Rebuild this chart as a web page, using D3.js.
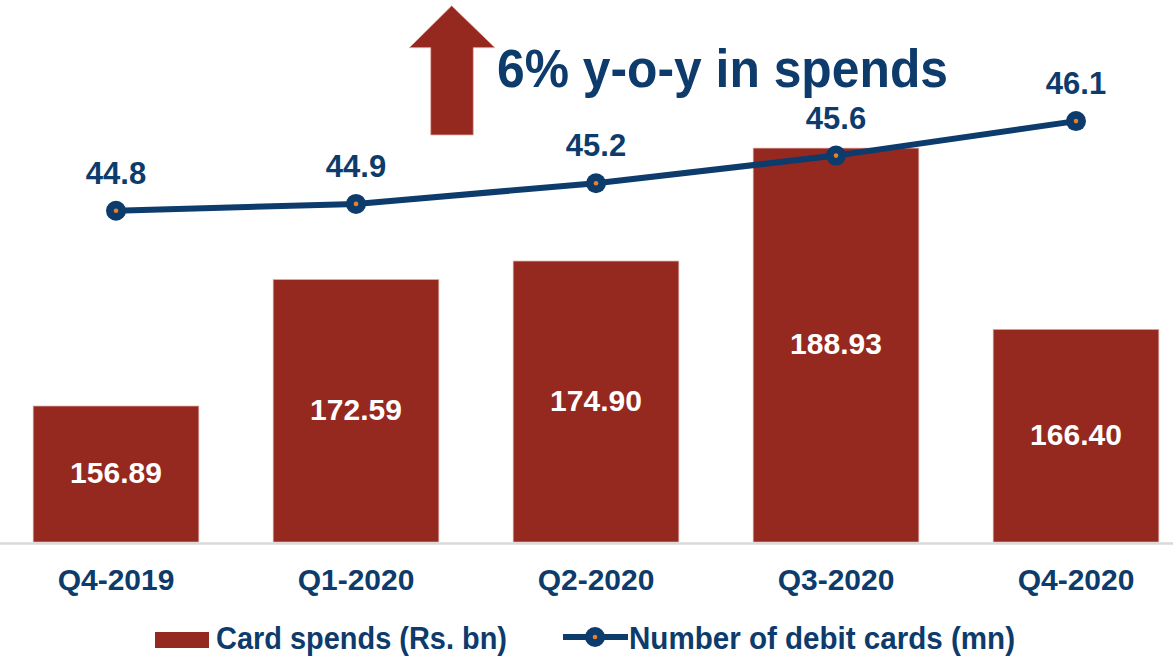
<!DOCTYPE html>
<html>
<head>
<meta charset="utf-8">
<script src="https://cdn.jsdelivr.net/npm/d3@7"></script>
<style>
  body { margin: 0; background: #fff; }
  text { font-family: "Liberation Sans", Arial, sans-serif; font-weight: bold; }
</style>
</head>
<body>
<script>
// chart data
const quarters = ['Q4-2019', 'Q1-2020', 'Q2-2020', 'Q3-2020', 'Q4-2020'];
const cardSpends = [156.89, 172.59, 174.90, 188.93, 166.40];   // Rs. bn
const debitCards = [44.8, 44.9, 45.2, 45.6, 46.1];              // mn
const spendLabels = ['156.89', '172.59', '174.90', '188.93', '166.40'];
const cardLabels = ['44.8', '44.9', '45.2', '45.6', '46.1'];
const seriesNames = ['Card spends (Rs. bn)', 'Number of debit cards (mn)'];
const headline = '6% y-o-y in spends';

const RED = '#952920';
const BLUE = '#0d3b6c';
const ORANGE = '#e8802c';

const width = 1173, height = 657;
const baseY = 542, topY = 59;

const svg = d3.select('body').append('svg')
	.attr('width', width)
	.attr('height', height);

// scales
const x = d3.scaleBand()
	.domain(quarters)
	.range([-4, 1196])
	.paddingInner(0.31)
	.paddingOuter(0.155);
const yBar = d3.scaleLinear().domain([140, 200]).range([baseY, topY]);
const yLine = d3.scaleLinear().domain([40, 47]).range([baseY, topY]);

// bars
svg.append('g').selectAll('rect')
	.data(cardSpends)
	.join('rect')
	.attr('x', (d, i) => x(quarters[i]))
	.attr('y', d => yBar(d))
	.attr('width', x.bandwidth())
	.attr('height', d => baseY - yBar(d))
	.attr('fill', RED)
	.attr('stroke', '#d9a39c')
	.attr('stroke-width', 0.7);

// bar labels
svg.append('g').selectAll('text')
	.data(cardSpends)
	.join('text')
	.attr('x', (d, i) => x(quarters[i]) + x.bandwidth() / 2)
	.attr('y', d => (yBar(d) + baseY) / 2 + 9)
	.attr('text-anchor', 'middle')
	.attr('font-size', 30)
	.attr('fill', '#fff')
	.text((d, i) => spendLabels[i]);

// x axis
const xAxis = svg.append('g')
	.attr('transform', `translate(0,${baseY})`)
	.call(d3.axisBottom(x).tickSize(0).tickPadding(27));
xAxis.select('.domain').remove();
xAxis.append('line')
	.attr('x1', 0).attr('x2', width)
	.attr('y1', 1.5).attr('y2', 1.5)
	.attr('stroke', '#d9d9d9')
	.attr('stroke-width', 2.5);
xAxis.selectAll('.tick text')
	.attr('font-family', '"Liberation Sans", Arial, sans-serif')
	.attr('font-size', 30)
	.attr('fill', BLUE);

// line series
const cx = (d, i) => x(quarters[i]) + x.bandwidth() / 2;
const line = d3.line()
	.x(cx)
	.y(d => yLine(d));

svg.append('path')
	.datum(debitCards)
	.attr('d', line)
	.attr('fill', 'none')
	.attr('stroke', BLUE)
	.attr('stroke-width', 6);

const pts = svg.append('g');
pts.selectAll('circle.outer')
	.data(debitCards)
	.join('circle')
	.attr('class', 'outer')
	.attr('cx', cx)
	.attr('cy', d => yLine(d))
	.attr('r', 10)
	.attr('fill', BLUE);
pts.selectAll('circle.inner')
	.data(debitCards)
	.join('circle')
	.attr('class', 'inner')
	.attr('cx', cx)
	.attr('cy', d => yLine(d))
	.attr('r', 2.3)
	.attr('fill', ORANGE);

svg.append('g').selectAll('text')
	.data(debitCards)
	.join('text')
	.attr('x', cx)
	.attr('y', d => yLine(d) - 27)
	.attr('text-anchor', 'middle')
	.attr('font-size', 31)
	.attr('fill', BLUE)
	.text((d, i) => cardLabels[i]);

// arrow + headline
svg.append('path')
	.attr('d', 'M451.7,5.7 L495,47.7 L473.3,47.7 L473.3,135 L430.7,135 L430.7,47.7 L409.3,47.7 Z')
	.attr('fill', RED)
	.attr('stroke', '#e8b3ac')
	.attr('stroke-width', 0.8);

svg.append('text')
	.attr('x', 497)
	.attr('y', 87)
	.attr('font-size', 54)
	.attr('textLength', 451)
	.attr('lengthAdjust', 'spacingAndGlyphs')
	.attr('fill', BLUE)
	.text(headline);

// legend
const legend = svg.append('g');
legend.append('rect')
	.attr('x', 155).attr('y', 632)
	.attr('width', 54).attr('height', 16)
	.attr('fill', RED);
legend.append('text')
	.attr('x', 216).attr('y', 649)
	.attr('font-size', 30.5)
	.attr('textLength', 291)
	.attr('lengthAdjust', 'spacingAndGlyphs')
	.attr('fill', BLUE)
	.text(seriesNames[0]);

legend.append('line')
	.attr('x1', 563).attr('x2', 628)
	.attr('y1', 637).attr('y2', 637)
	.attr('stroke', BLUE)
	.attr('stroke-width', 6);
legend.append('circle')
	.attr('cx', 595).attr('cy', 637).attr('r', 10)
	.attr('fill', BLUE);
legend.append('circle')
	.attr('cx', 595).attr('cy', 637).attr('r', 2.3)
	.attr('fill', ORANGE);
legend.append('text')
	.attr('x', 629).attr('y', 649)
	.attr('font-size', 30.5)
	.attr('textLength', 386)
	.attr('lengthAdjust', 'spacingAndGlyphs')
	.attr('fill', BLUE)
	.text(seriesNames[1]);
</script>
</body>
</html>
